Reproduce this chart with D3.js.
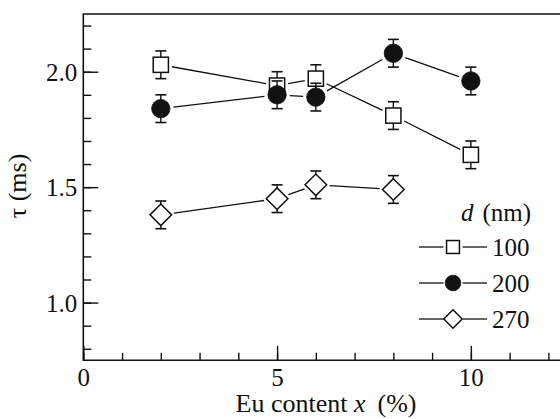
<!DOCTYPE html>
<html><head><meta charset="utf-8">
<script src="https://cdn.jsdelivr.net/npm/d3@7"></script>
<style>
html,body{margin:0;padding:0;background:#fff;}
svg{display:block;}
</style></head>
<body>
<svg id="chart" width="560" height="419"></svg>
<script>
// ---- data ----
const xContent = [2, 5, 6, 8, 10];
const tau100 = [2.03, 1.94, 1.97, 1.81, 1.64];
const tau200 = [1.84, 1.90, 1.89, 2.08, 1.96];
const xContent270 = [2, 5, 6, 8];
const tau270 = [1.38, 1.45, 1.51, 1.49];
const err100 = [0.06, 0.06, 0.06, 0.06, 0.06];
const err200 = [0.06, 0.06, 0.06, 0.06, 0.06];
const err270 = [0.06, 0.06, 0.06, 0.06];
const seriesNames = ["100", "200", "270"];
const xMajorTicks = [0, 5, 10];
const yMajorTicks = [1.0, 1.5, 2.0];

const svg = d3.select("#chart");
const x = d3.scaleLinear().domain([0, 12.3]).range([83.3, 560]);
const y = d3.scaleLinear().domain([0.75, 2.25]).range([360.3, 14]);

const FS = "25px", FT = "26px";
const ink = "#111";
const SERIF = '"Liberation Serif"';
function serif(sel, size) {
  return sel.style("font-family", SERIF).style("font-size", size).style("fill", ink);
}

const xMinor = d3.range(0, 13, 1);
const yMinor = d3.range(8, 23, 1).map(d => d / 10);

const gx = svg.append("g").attr("transform", `translate(0,${y.range()[0]})`);
gx.call(d3.axisBottom(x).tickValues(xMinor).tickSizeInner(-7.5).tickSizeOuter(0).tickFormat(""));
gx.select(".domain").remove();
const gx2 = svg.append("g").attr("transform", `translate(0,${y.range()[0]})`);
gx2.call(d3.axisBottom(x).tickValues(xMajorTicks).tickSizeInner(-14.5).tickSizeOuter(0).tickFormat(d3.format("d")));
gx2.select(".domain").remove();
serif(gx2.selectAll(".tick text"), FS).attr("y", 26).attr("dy", 0);

const gy = svg.append("g").attr("transform", `translate(${x.range()[0]},0)`);
gy.call(d3.axisLeft(y).tickValues(yMinor).tickSizeInner(-8).tickSizeOuter(0).tickFormat(""));
gy.select(".domain").remove();
const gy2 = svg.append("g").attr("transform", `translate(${x.range()[0]},0)`);
gy2.call(d3.axisLeft(y).tickValues(yMajorTicks).tickSizeInner(-15).tickSizeOuter(0).tickFormat(d3.format(".1f")));
gy2.select(".domain").remove();
serif(gy2.selectAll(".tick text"), FS).attr("x", -6).attr("dy", "0.34em");

svg.selectAll(".tick line").attr("stroke", ink).attr("stroke-width", 1.4);

// frame (left, bottom, top)
const x0 = x.range()[0], x1 = x.range()[1], yb = y.range()[0], yt = y.range()[1];
svg.append("path")
  .attr("d", `M${x1},${yt}H${x0}V${yb}H${x1}`)
  .attr("fill", "none").attr("stroke", ink).attr("stroke-width", 1.6);

// marker geometry
const SQ = 7.6, CR = 9.2, DM = 10.8, GAP = 3.5;
function edgeDist(shape, ux, uy) {
  const ax = Math.abs(ux), ay = Math.abs(uy);
  if (shape === "square") return SQ / Math.max(ax, ay);
  if (shape === "circle") return CR;
  return DM / (ax + ay);
}
function drawMarker(g, shape, cx, cy, s) {
  s = s || 1;
  if (shape === "square") {
    g.append("rect").attr("x", cx - SQ * s).attr("y", cy - SQ * s)
      .attr("width", 2 * SQ * s).attr("height", 2 * SQ * s)
      .attr("fill", "#fff").attr("stroke", ink).attr("stroke-width", 1.5);
  } else if (shape === "circle") {
    g.append("circle").attr("cx", cx).attr("cy", cy).attr("r", CR * s)
      .attr("fill", ink).attr("stroke", ink).attr("stroke-width", 0.8);
  } else {
    const h = DM * s;
    g.append("path").attr("d", `M${cx},${cy - h}L${cx + h},${cy}L${cx},${cy + h}L${cx - h},${cy}Z`)
      .attr("fill", "#fff").attr("stroke", ink).attr("stroke-width", 1.5);
  }
}

const series = [
  {xs: xContent, ys: tau100, es: err100, shape: "square"},
  {xs: xContent, ys: tau200, es: err200, shape: "circle"},
  {xs: xContent270, ys: tau270, es: err270, shape: "diamond"}
];

series.forEach(s => {
  const g = svg.append("g");
  const pts = s.xs.map((xv, i) => [x(xv), y(s.ys[i]), s.es[i]]);
  for (let i = 0; i < pts.length - 1; i++) {
    const [ax, ay] = pts[i], [bx, by] = pts[i + 1];
    const L = Math.hypot(bx - ax, by - ay), ux = (bx - ax) / L, uy = (by - ay) / L;
    const d = edgeDist(s.shape, ux, uy) + GAP;
    g.append("line")
      .attr("x1", ax + ux * d).attr("y1", ay + uy * d)
      .attr("x2", bx - ux * d).attr("y2", by - uy * d)
      .attr("stroke", ink).attr("stroke-width", 1.3);
  }
  s.xs.forEach((xv, i) => {
    const cx = x(xv), top = y(s.ys[i] + s.es[i]), bot = y(s.ys[i] - s.es[i]);
    g.append("line").attr("x1", cx).attr("x2", cx).attr("y1", top).attr("y2", bot)
      .attr("stroke", ink).attr("stroke-width", 1.4);
    [top, bot].forEach(yy => g.append("line").attr("x1", cx - 5.5).attr("x2", cx + 5.5)
      .attr("y1", yy).attr("y2", yy).attr("stroke", ink).attr("stroke-width", 1.6));
  });
  pts.forEach(p => drawMarker(g, s.shape, p[0], p[1]));
});

// legend
const lg = svg.append("g");
const hdr = serif(lg.append("text"), FS).attr("x", 461).attr("y", 221);
hdr.append("tspan").style("font-style", "italic").text("d");
hdr.append("tspan").attr("dx", 9).text("(nm)");
const legY = [247, 283, 319];
seriesNames.forEach((nm, i) => {
  const cy = legY[i];
  lg.append("line").attr("x1", 419).attr("x2", 443.5).attr("y1", cy).attr("y2", cy).attr("stroke", ink).attr("stroke-width", 1.3);
  lg.append("line").attr("x1", 462.5).attr("x2", 487).attr("y1", cy).attr("y2", cy).attr("stroke", ink).attr("stroke-width", 1.3);
  drawMarker(lg, series[i].shape, 453, cy, 0.85);
  serif(lg.append("text"), FS).attr("x", 492).attr("y", cy + 8.5).text(nm);
});

// axis titles
const xt = serif(svg.append("text"), FT).attr("x", 326).attr("y", 412).attr("text-anchor", "middle");
xt.append("tspan").text("Eu content ");
xt.append("tspan").style("font-style", "italic").text("x");
xt.append("tspan").attr("dx", 12).text("(%)");

serif(svg.append("text"), FT).attr("transform", "translate(26,186) rotate(-90)")
  .attr("text-anchor", "middle").text("τ  (ms)");
</script>
</body></html>
